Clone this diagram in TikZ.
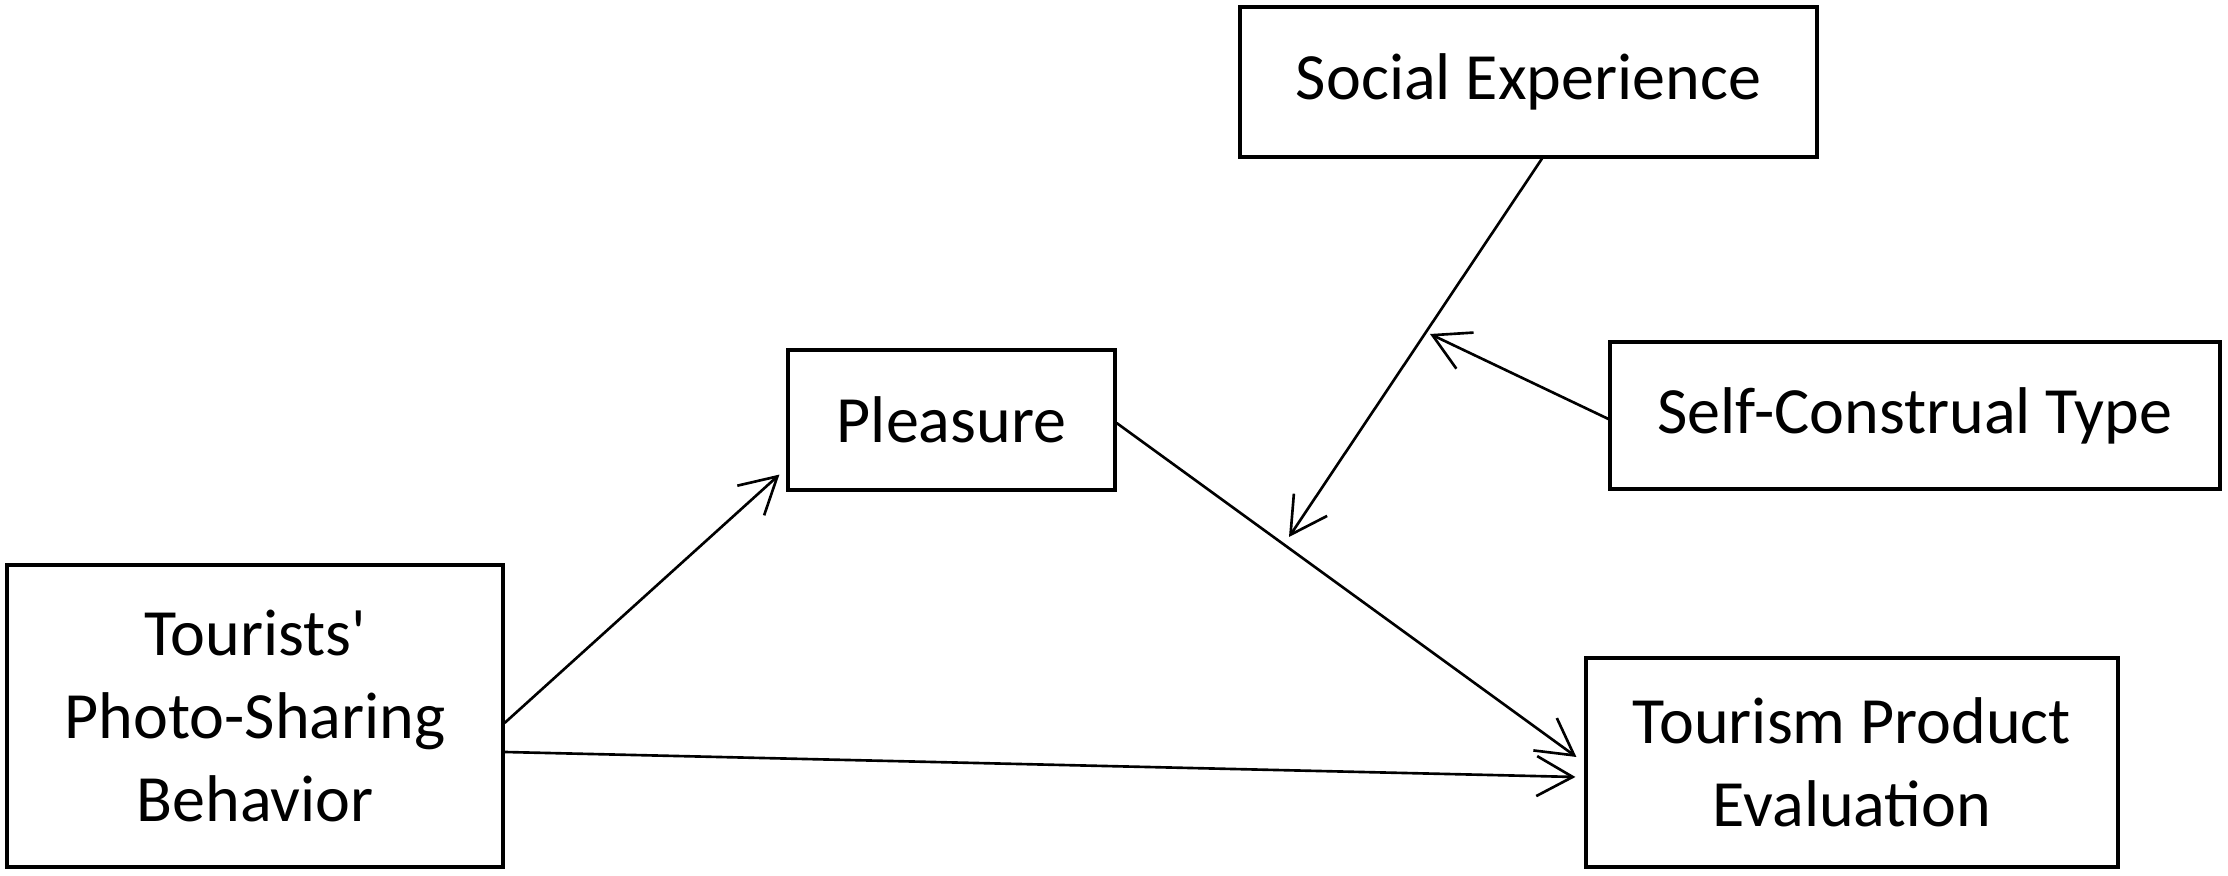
\documentclass[tikz,border=0pt]{standalone}
\usepackage{fontspec}
\setmainfont{Carlito}
\usepackage{tikz}
\usetikzlibrary{arrows.meta}

\begin{document}
\begin{tikzpicture}[
  box/.style={draw, line width=0.9pt, inner sep=0pt, align=center,
    font=\fontsize{18.8}{23.6}\selectfont},
  link/.style={line width=0.75pt, -{Straight Barb[length=3.6mm,width=4mm]}}
]
  \useasboundingbox (0,0) rectangle (22.28,-8.76);
  % variables
  \node[box, minimum width=4.96cm, minimum height=3.02cm] (tpsb) at (2.55,-7.16)
    {Tourists\textquotesingle\\Photo-Sharing\\Behavior};
  \node[box, minimum width=3.27cm, minimum height=1.40cm] (pleasure) at (9.515,-4.20) {Pleasure};
  \node[box, minimum width=5.77cm, minimum height=1.50cm] (social) at (15.285,-0.82) {Social Experience};
  \node[box, minimum width=6.10cm, minimum height=1.47cm] (selfcons) at (19.15,-4.155) {Self-Construal Type};
  \node[box, minimum width=5.32cm, minimum height=2.09cm] (tpe) at (18.52,-7.625) {Tourism Product\\Evaluation};
  % free ends of the moderation arrows
  \coordinate (onpath) at (12.89,-5.37);
  \coordinate (onsocial) at (14.30,-3.34);
  % paths
  \draw[link] ([yshift=-0.07cm]tpsb.east) -- ([xshift=-0.07cm,yshift=0.17cm]pleasure.south west);
  \draw[link] ([yshift=-0.36cm]tpsb.east) -- ([xshift=-0.09cm,yshift=-0.145cm]tpe.west);
  \draw[link] ([yshift=-0.03cm]pleasure.east) -- ([xshift=-0.08cm,yshift=0.055cm]tpe.west);
  \draw[link] ([xshift=0.135cm]social.south) -- (onpath);
  \draw[link] ([yshift=-0.035cm]selfcons.west) -- (onsocial);
\end{tikzpicture}
\end{document}
